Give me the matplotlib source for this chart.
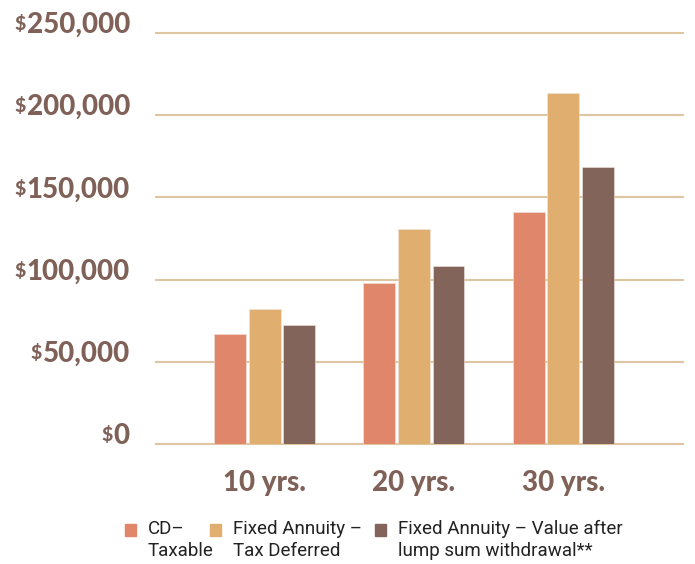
import matplotlib
matplotlib.use("Agg")
import matplotlib.pyplot as plt
import matplotlib.transforms as mtransforms
from matplotlib.patches import Rectangle
import numpy as np

categories = ["10 yrs.", "20 yrs.", "30 yrs."]
series_names = ["CD–\nTaxable", "Fixed Annuity –\nTax Deferred",
                "Fixed Annuity – Value after\nlump sum withdrawal**"]
cd_taxable = [67000, 98000, 141000]
annuity_deferred = [82000, 130500, 213500]
annuity_after = [72500, 108000, 168500]
y_ticks = [0, 50000, 100000, 150000, 200000, 250000]

colors = ["#E0866A", "#E0AE6E", "#82645A"]
text_color = "#7F6158"
grid_color = "#DFC6A3"

W, H = 695, 564
fig = plt.figure(figsize=(W / 100, H / 100), dpi=100)
ax = fig.add_axes([156 / W, (H - 444) / H, (683 - 156) / W, (444 - 33) / H])

x = np.arange(len(categories))
width = 0.214
offset = 0.231
for i, vals in enumerate([cd_taxable, annuity_deferred, annuity_after]):
    ax.bar(x + (i - 1) * offset, vals, width, color=colors[i], zorder=3,
           edgecolor="#F3E4DC", linewidth=0.4)

ax.set_xlim(-0.726, 2.80)
ax.set_ylim(0, 250000)
ax.set_yticks(y_ticks)
ax.set_yticklabels([])
ax.tick_params(axis="y", length=0)
for v in y_ticks:
    ax.axhline(v, color=grid_color, lw=1.5, zorder=1, clip_on=False)
for s in ax.spines.values():
    s.set_visible(False)

ax.set_xticks(x)
ax.set_xticklabels(categories, fontsize=20, fontweight="black", color=text_color,
                   family="Lato")
ax.tick_params(axis="x", length=0, pad=19)

# y labels with small raised dollar sign
trans = mtransforms.offset_copy(ax.get_yaxis_transform(), fig=fig, x=-26, y=0, units="dots")
for v in y_ticks:
    t = ax.text(0, v, f"{v:,}", transform=trans, ha="right", va="baseline",
                fontsize=20, fontweight="black", color=text_color, family="Lato")
    ax.annotate("$", xy=(0, 0), xycoords=t, xytext=(-0.5, 3.5), textcoords="offset points",
                ha="right", va="bottom", fontsize=14, fontweight="black",
                color=text_color, family="Lato")

# legend drawn manually
sq_x = [125, 210, 375]
tx_x = [148, 233, 398]
for i in range(3):
    fig.patches.append(Rectangle((sq_x[i] / W, (H - 536) / H), 11 / W, 12 / H,
                                 transform=fig.transFigure, color=colors[i]))
    fig.text(tx_x[i] / W, (H - 520) / H, series_names[i], ha="left", va="top",
             fontsize=13.5, color="#222222", family="Roboto", linespacing=1.3)

fig.savefig("out.png", dpi=100)
